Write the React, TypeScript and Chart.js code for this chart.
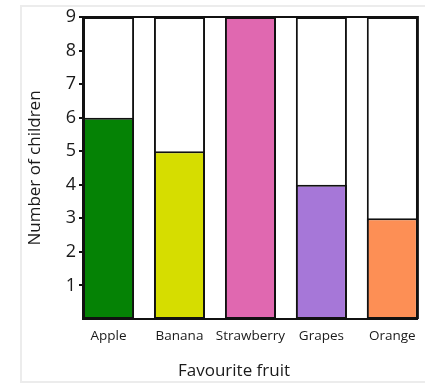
import React, { useEffect, useRef } from "react";
import { Chart, registerables } from "chart.js";

Chart.register(...registerables);

const categories = ["Apple", "Banana", "Strawberry", "Grapes", "Orange"];
const values = [6, 5, 9, 4, 3];
const barColors = ["#058205", "#d6dd00", "#e068b0", "#a677d8", "#fd8f55"];
const yMax = 9;
const yTicks = [1, 2, 3, 4, 5, 6, 7, 8, 9];
const xTitle = "Favourite fruit";
const yTitle = "Number of children";

const FONT = "'Open Sans', sans-serif";

const framePlugin = {
  id: "framePlugin",
  afterDatasetsDraw(chart: any) {
    const { ctx, chartArea } = chart;
    ctx.save();
    ctx.strokeStyle = "#111";
    ctx.lineWidth = 2;
    ctx.beginPath();
    ctx.moveTo(chartArea.left, chartArea.top);
    ctx.lineTo(chartArea.right, chartArea.top);
    ctx.lineTo(chartArea.right, chartArea.bottom);
    ctx.stroke();
    ctx.restore();
  },
  afterDraw(chart: any) {
    const { ctx, chartArea } = chart;
    ctx.save();
    ctx.fillStyle = "#1a1a1a";
    ctx.font = `17px ${FONT}`;
    ctx.textAlign = "center";
    ctx.textBaseline = "middle";
    ctx.fillText(xTitle, 234, 371);
    ctx.translate(35, (chartArea.top + chartArea.bottom) / 2);
    ctx.rotate(-Math.PI / 2);
    ctx.fillText(yTitle, 0, 0);
    ctx.restore();
  },
};

export default function App() {
  const ref = useRef<HTMLCanvasElement>(null);
  useEffect(() => {
    if (!ref.current) return;
    const common = {
      borderColor: "#111",
      borderWidth: 2,
      borderSkipped: false,
      grouped: false,
      categoryPercentage: 1,
      barPercentage: 0.72,
    };
    const chart = new Chart(ref.current, {
      type: "bar",
      data: {
        datasets: [
          {
            ...common,
            data: categories.map((c, i) => ({ x: i, y: values[i] })),
            backgroundColor: barColors,
          },
          {
            ...common,
            data: categories.map((c, i) => ({ x: i, y: yMax })),
            backgroundColor: "#ffffff",
          },
        ],
      },
      options: {
        responsive: false,
        animation: false,
        layout: { padding: { top: 17, right: 4, left: 0, bottom: 0 } },
        plugins: { legend: { display: false }, tooltip: { enabled: false } },
        scales: {
          x: {
            type: "linear",
            offset: false,
            min: -0.36,
            max: categories.length - 1 + 0.36,
            afterFit: (s: any) => {
              s.height = 68;
            },
            afterBuildTicks: (s: any) => {
              s.ticks = categories.map((c, i) => ({ value: i }));
            },
            ticks: {
              callback: (v: any) => categories[v] ?? "",
              color: "#1a1a1a",
              font: { family: FONT, size: 13.5 },
              padding: 9,
              maxRotation: 0,
              autoSkip: false,
            },
            grid: { display: false, drawTicks: false, offset: false },
            border: { display: true, color: "#111", width: 2 },
          },
          y: {
            min: 0,
            max: yMax,
            afterFit: (s: any) => {
              s.width = 83;
            },
            afterBuildTicks: (s: any) => {
              s.ticks = yTicks.map((v) => ({ value: v }));
            },
            ticks: {
              color: "#1a1a1a",
              font: { family: FONT, size: 18 },
              padding: 3,
            },
            grid: {
              drawOnChartArea: false,
              drawTicks: true,
              tickLength: 4,
              color: "#111",
              lineWidth: 2,
            },
            border: { display: true, color: "#111", width: 2 },
          },
        },
      },
      plugins: [framePlugin],
    });
    return () => chart.destroy();
  }, []);

  return (
    <div style={{ position: "absolute", left: 0, top: 0, width: 425, height: 387, background: "#fff", overflow: "hidden" }}>
      <div
        style={{
          position: "absolute",
          left: 20,
          top: 5,
          width: 440,
          height: 378,
          border: "2px solid #ececec",
          boxSizing: "border-box",
        }}
      />
      <canvas ref={ref} width={425} height={387} style={{ position: "absolute", left: 0, top: 0, display: "block" }} />
    </div>
  );
}
